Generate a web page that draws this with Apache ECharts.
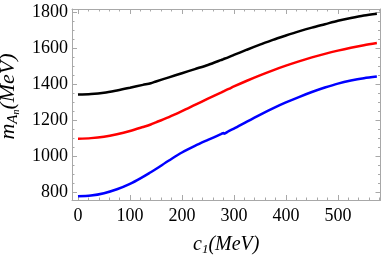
<!DOCTYPE html>
<html><head><meta charset="utf-8">
<script src="https://cdn.jsdelivr.net/npm/echarts@6/dist/echarts.min.js"></script>
<style>html,body{margin:0;padding:0;background:#fff}#c{width:382px;height:255px}</style>
</head><body><div id="c"></div>
<script>
const c1 = [0,25,50,75,100,125,140,150,175,200,225,250,275,280,281,290,300,325,350,375,400,425,450,475,500,525,550,575];
const blackVals = [1343,1346,1353,1366,1381,1397,1406,1416,1439,1462,1485,1508,1535,1541,1542,1552,1564,1593,1621,1648,1672,1695,1716,1735,1754,1770,1784,1794];
const redVals   = [1097,1100,1108,1122,1140,1162,1176,1188,1217,1250,1285,1320,1354,1361,1362,1374,1388,1420,1450,1478,1504,1528,1550,1570,1588,1604,1618,1630];
const blueVals  = [776,780,793,815,845,884,910,928,975,1020,1057,1090,1122,1129,1125,1139,1153,1192,1230,1266,1299,1329,1357,1382,1404,1421,1434,1443];
const xMajor = [0,100,200,300,400,500];
const xMinor = [0,20,40,60,80,100,120,140,160,180,200,220,240,260,280,300,320,340,360,380,400,420,440,460,480,500,520,540,560,580];
const yMajor = [800,1000,1200,1400,1600,1800];
const yMinor = [800,850,900,950,1000,1050,1100,1150,1200,1250,1300,1350,1400,1450,1500,1550,1600,1650,1700,1750,1800];

const XMIN=-11.5, XMAX=582, YMIN=755, YMAX=1820;
const frame = '#a8a8a8';
const font = 'Liberation Serif';
function xa(pos, major, labels){
  return {type:'value', position:pos, min:XMIN, max:XMAX, gridIndex:0,
    axisLine:{show:major, onZero:false, lineStyle:{color:frame,width:1}},
    splitLine:{show:false},
    axisTick:{show:true, inside:true, length: major?5:2.5, customValues: major?xMajor:xMinor, lineStyle:{color:frame}},
    axisLabel:{show:labels, customValues:xMajor, formatter:(v)=>String(v), color:'#000', fontFamily:font, fontSize:18, margin:7},
    name: labels?'{i|c}{s|1}{i|(MeV)}':'', nameLocation:'middle', nameGap:34,
    nameTextStyle:{rich:{
      i:{fontFamily:font, fontStyle:'italic', fontSize:20, color:'#000'},
      s:{fontFamily:font, fontStyle:'italic', fontSize:13, color:'#000', verticalAlign:'bottom', padding:[9,0,0,0]}
    }}
  };
}
function ya(pos, major, labels){
  return {type:'value', position:pos, min:YMIN, max:YMAX, gridIndex:0,
    axisLine:{show:major, onZero:false, lineStyle:{color:frame,width:1}},
    splitLine:{show:false},
    axisTick:{show:true, inside:true, length: major?5:2.5, customValues: major?yMajor:yMinor, lineStyle:{color:frame}},
    axisLabel:{show:labels, customValues:yMajor, formatter:(v)=>String(v), color:'#000', fontFamily:font, fontSize:18, margin:4},
    name: labels?'{i|m}{s|A}{ss|n}{i|(MeV)}':'', nameLocation:'middle', nameGap:50, nameRotate:90,
    nameTextStyle:{padding:[0,0,0,16], rich:{
      i:{fontFamily:font, fontStyle:'italic', fontSize:22, color:'#000'},
      s:{fontFamily:font, fontStyle:'italic', fontSize:15, color:'#000', padding:[9,0,0,0]},
      ss:{fontFamily:font, fontStyle:'italic', fontSize:10, color:'#000', padding:[15,0,0,0]}
    }}
  };
}
const chart = echarts.init(document.getElementById('c'), null, {renderer:'canvas'});
function mk(vals){ return c1.map((x,i)=>[x,vals[i]]); }
chart.setOption({
  animation:false,
  grid:{left:72, right:1.5, top:9, bottom:55, containLabel:false, outerBoundsMode:'none'},
  xAxis:[xa('bottom',true,true), xa('bottom',false,false), xa('top',true,false), xa('top',false,false)],
  yAxis:[ya('left',true,true), ya('left',false,false), ya('right',true,false), ya('right',false,false)],
  series:[
    {type:'line', data:mk(blackVals), smooth:0.3, symbol:'none', lineStyle:{color:'#000', width:2.5}},
    {type:'line', data:mk(redVals), smooth:0.3, symbol:'none', lineStyle:{color:'#ff0000', width:2.5}},
    {type:'line', data:mk(blueVals), smooth:0.3, symbol:'none', lineStyle:{color:'#0000ff', width:2.5}}
  ]
});
</script></body></html>
